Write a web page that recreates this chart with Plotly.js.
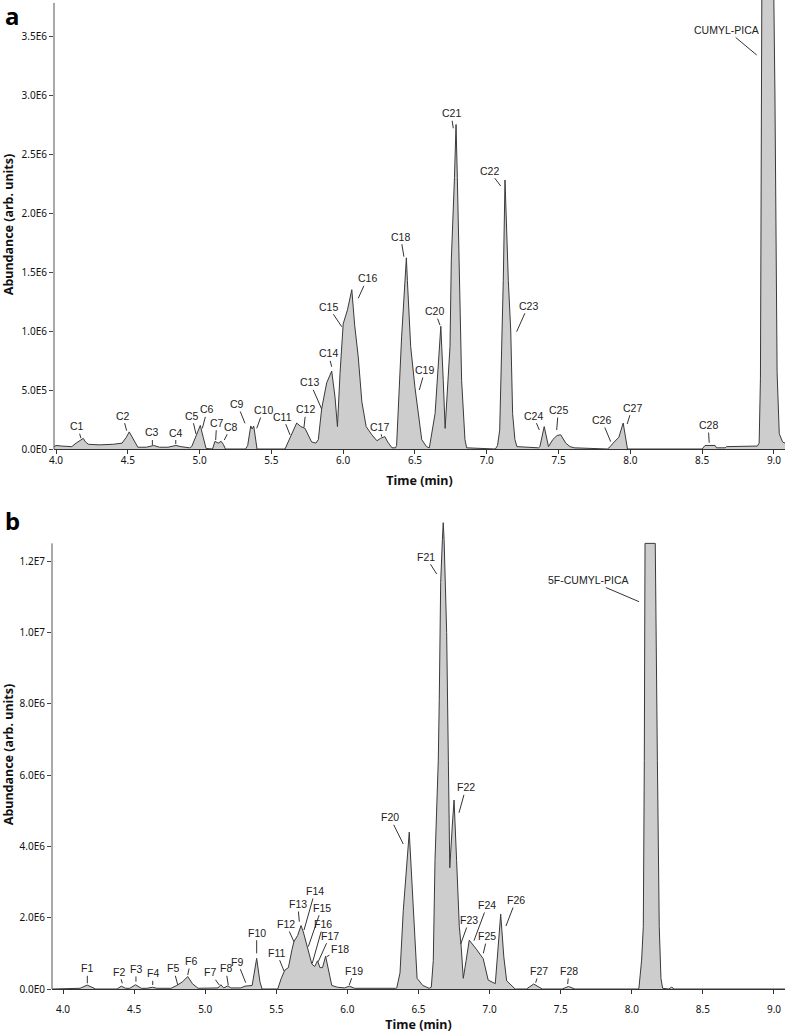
<!DOCTYPE html>
<html><head><meta charset="utf-8">
<script src="https://cdn.plot.ly/plotly-3.0.1.min.js"></script>
<style>html,body{margin:0;padding:0;background:#fff}#chart{width:787px;height:1034px}</style>
</head><body><div id="chart"></div>
<script>
// ---------- Panel a: CUMYL-PICA chromatogram (time in min, abundance in units of 1E6) ----------
const aTime = [3.986,4.00,4.04,4.08,4.11,4.14,4.19,4.205,4.225,4.30,4.40,4.46,4.49,4.51,4.54,4.57,4.63,4.68,4.72,4.78,
  4.835,4.87,4.93,4.945,4.975,5.005,5.025,5.045,5.09,5.10,5.107,5.13,5.15,5.165,5.18,5.32,5.335,5.356,5.366,5.377,
  5.39,5.40,5.595,5.63,5.676,5.705,5.734,5.78,5.81,5.827,5.85,5.885,5.92,5.943,5.96,5.978,6.00,6.03,6.06,6.08,
  6.105,6.13,6.16,6.20,6.235,6.26,6.29,6.31,6.34,6.365,6.372,6.407,6.44,6.447,6.47,6.50,6.52,6.547,6.58,6.60,
  6.64,6.662,6.68,6.697,6.71,6.744,6.753,6.775,6.786,6.795,6.808,6.825,6.848,6.86,7.06,7.075,7.09,7.105,7.115,7.127,
  7.15,7.167,7.18,7.196,7.21,7.36,7.37,7.40,7.43,7.46,7.49,7.515,7.55,7.58,7.61,7.84,7.86,7.88,7.92,7.95,
  7.97,7.98,8.50,8.52,8.59,8.60,8.66,8.67,8.885,8.897,8.906,8.916,8.955,8.997,9.007,9.022,9.037,9.06,9.077];
const aAbundM = [0.02,0.03,0.025,0.02,0.02,0.05,0.09,0.06,0.04,0.035,0.04,0.05,0.10,0.145,0.08,0.015,0.015,0.03,0.015,0.015,
  0.03,0.02,0.01,0.02,0.11,0.20,0.10,0.005,0.0,0.05,0.065,0.05,0.065,0.04,0.0,0.0,0.03,0.195,0.17,0.195,
  0.08,0.0,0.0,0.10,0.22,0.19,0.175,0.06,0.05,0.08,0.34,0.56,0.66,0.44,0.19,0.64,1.06,1.18,1.35,1.05,
  0.78,0.40,0.19,0.12,0.07,0.09,0.105,0.06,0.01,0.01,0.03,0.95,1.62,1.43,0.87,0.52,0.35,0.08,0.02,0.01,
  0.30,0.73,1.04,0.58,0.175,0.87,1.6,2.3,2.75,2.3,1.4,0.58,0.08,0.01,0.0,0.03,0.16,0.8,1.43,2.28,
  1.43,1.0,0.3,0.08,0.02,0.01,0.02,0.19,0.02,0.08,0.115,0.12,0.05,0.02,0.01,0.0,0.02,0.05,0.10,0.22,
  0.08,0.0,0.0,0.03,0.03,0.01,0.01,0.02,0.025,0.05,0.6,4.0,8.5,4.0,3.0,0.65,0.13,0.06,0.05];

const aLabelText = ['C1','C2','C3','C4','C5','C6','C7','C8','C9','C10','C11','C12','C13','C14','C15','C16','C17','C18','C19','C20',
  'C21','C22','C23','C24','C25','C26','C27','C28','CUMYL-PICA'];
const aLabelT = [4.174,4.492,4.671,4.834,4.975,5.019,5.112,5.172,5.316,5.398,5.63,5.727,5.85,5.92,5.99,6.105,6.268,6.423,6.53,6.674,
  6.767,7.097,7.208,7.366,7.487,7.863,7.978,8.549,8.88];
const aLabelV = [0.091,0.155,0.034,0.042,0.127,0.175,0.076,0.076,0.218,0.175,0.119,0.184,0.339,0.697,1.036,1.277,0.104,1.63,0.5,1.05,
  2.718,2.229,0.994,0.161,0.161,0.062,0.212,0.053,3.339];
const aYTickVals = [0,0.5,1.0,1.5,2.0,2.5,3.0,3.5];
const aYTickText = ['0.0E0','5.0E5','1.0E6','1.5E6','2.0E6','2.5E6','3.0E6','3.5E6'];

// ---------- Panel b: 5F-CUMYL-PICA chromatogram ----------
const bTime = [3.923,4.10,4.12,4.17,4.21,4.23,4.38,4.41,4.44,4.47,4.51,4.55,4.59,4.63,4.66,4.76,4.80,4.84,4.877,4.91,
  4.95,5.05,5.09,5.11,5.13,5.16,5.18,5.25,5.28,5.33,5.362,5.385,5.40,5.51,5.535,5.56,5.585,5.61,5.624,5.65,
  5.674,5.69,5.70,5.714,5.725,5.75,5.77,5.79,5.807,5.825,5.847,5.87,5.89,5.93,5.98,6.013,6.05,6.34,6.347,6.37,
  6.393,6.435,6.464,6.49,6.53,6.575,6.59,6.604,6.616,6.639,6.646,6.656,6.668,6.674,6.68,6.698,6.71,6.72,6.738,6.75,
  6.768,6.787,6.80,6.815,6.835,6.857,6.91,6.955,6.99,7.04,7.078,7.10,7.12,7.18,7.26,7.31,7.37,7.51,7.555,7.60,
  8.04,8.05,8.069,8.081,8.088,8.093,8.165,8.175,8.18,8.193,8.205,8.217,8.26,8.28,8.30,9.077];
const bAbundM = [0,0,0.02,0.11,0.03,0,0,0.08,0.02,0.02,0.12,0.02,0.02,0.05,0.02,0.02,0.10,0.20,0.35,0.15,
  0.02,0.02,0.03,0.12,0.03,0.09,0.03,0.03,0.08,0.10,0.86,0.20,0,0,0.30,0.53,0.60,1.10,1.33,1.50,
  1.78,1.60,1.45,1.20,1.05,0.70,0.63,0.79,0.60,0.60,0.92,0.45,0.10,0.05,0.03,0.08,0.02,0.02,0.03,0.45,
  2.2,4.4,2.2,0.30,0.10,0.02,0.05,0.8,3.6,6.4,8.1,11.4,12.6,13.08,12.6,10.0,6.4,3.4,4.6,5.3,
  3.6,1.75,1.20,0.30,0.80,1.37,1.10,0.85,0.25,0.15,2.10,0.90,0.23,0,0,0.14,0,0,0.07,0,
  0,0.02,0.81,1.75,6.4,12.5,12.5,7.2,6.4,1.75,0.30,0.02,0,0.05,0,0];

const bLabelText = ['F1','F2','F3','F4','F5','F6','F7','F8','F9','F10','F11','F12','F13','F14','F15','F16','F17','F18','F19','F20',
  'F21','F22','F23','F24','F25','F26','F27','F28','5F-CUMYL-PICA'];
const bLabelT = [4.171,4.417,4.513,4.631,4.807,4.877,5.099,5.162,5.285,5.362,5.554,5.624,5.662,5.695,5.725,5.753,5.795,5.854,6.013,6.393,
  6.628,6.785,6.797,6.89,6.956,7.115,7.324,7.549,8.051];
const bLabelV = [0.16,0.16,0.205,0.112,0.112,0.393,0.112,0.112,0.177,1.0,0.505,1.327,1.888,1.655,1.187,0.721,0.766,0.906,0.112,4.067,
  11.64,4.945,1.262,1.355,1.0,1.767,0.177,0.14,10.864];
const bYTickVals = [0,2,4,6,8,10,12];
const bYTickText = ['0.0E0','2.0E6','4.0E6','6.0E6','8.0E6','1.0E7','1.2E7'];

const xTickVals = [4.0,4.5,5.0,5.5,6.0,6.5,7.0,7.5,8.0,8.5,9.0];
const xTickText = ['4.0','4.5','5.0','5.5','6.0','6.5','7.0','7.5','8.0','8.5','9.0'];

// ---------- label offsets (pixels, text centre relative to arrow tip) ----------
const aLabelDX = [-3.7,-4,0,0,-4.3,5,1,6.7,-7.7,6.6,-7.3,2,-11.7,-3.4,-13.4,9,-1.7,-3.3,5.7,-5,-2.3,-11.7,11.6,-6,1.6,-9,5,-1,-30];
const aLabelDY = [-12,-15,-12.5,-11.5,-18.3,-19,-17.3,-13.3,-19.3,-18.3,-18.3,-18,-26.7,-13.4,-20,-20,-10,-20,-20,-14,-15,-15.3,-26,-14.3,-20,-21.7,-16.3,-17.7,-25];
const bLabelDX = [0,-3.3,0,0,-4.4,3,-9.3,-2.6,-8.4,0,-7.3,-8,-1.6,11,13.4,11,11.7,13.3,5,-13.3,-11,7,8.6,13.3,4,10,3.6,1.3,-50.7];
const bLabelDY = [-15,-11.6,-12.7,-11.7,-16.7,-14,-12.7,-16.7,-21,-20.6,-18.3,-17.7,-17.7,-39,-39,-39.3,-26,-7.4,-14.3,-26.7,-17.3,-25.4,-24,-35.7,-17.3,-26,-11.7,-13,-21.7];

const M = 1e6;
const lineStyle = {color:'#3a3a3a', width:1, shape:'linear'};
const fillCol = '#cdcdcd';
const traces = [
  {type:'scatter', mode:'lines', x:aTime, y:aAbundM.map(v=>v*M), xaxis:'x', yaxis:'y', fill:'tozeroy', fillcolor:fillCol, line:lineStyle, hoverinfo:'skip', name:'CUMYL-PICA'},
  {type:'scatter', mode:'lines', x:bTime, y:bAbundM.map(v=>v*M), xaxis:'x2', yaxis:'y2', fill:'tozeroy', fillcolor:fillCol, line:lineStyle, hoverinfo:'skip', name:'5F-CUMYL-PICA'}
];

const tickFont = {family:'Noto Sans, Open Sans, sans-serif', size:10, color:'#111'};
const titleFont = {family:'Noto Sans, Open Sans, sans-serif', size:12.5, color:'#111', weight:'bold'};
const labFont = {family:'Liberation Sans, Arial, sans-serif', size:10.5, color:'#222'};

function mkLabels(txt, T, V, DX, DY, xr, yr) {
  return txt.map((t,i)=>({x:T[i], y:V[i]*M, xref:xr, yref:yr, text:t, showarrow:true, arrowhead:0, arrowwidth:1,
    arrowcolor:'#333', ax:DX[i], ay:DY[i], font:labFont, borderpad:1}));
}

const annotations = [
  ...mkLabels(aLabelText, aLabelT, aLabelV, aLabelDX, aLabelDY, 'x', 'y'),
  ...mkLabels(bLabelText, bLabelT, bLabelV, bLabelDX, bLabelDY, 'x2', 'y2'),
  {text:'a', xref:'paper', yref:'paper', x:-40/733, y:(989-15)/989, showarrow:false, xanchor:'center', yanchor:'middle',
   font:{family:'Noto Sans, Open Sans, sans-serif', size:24, color:'#000', weight:'bold'}},
  {text:'b', xref:'paper', yref:'paper', x:-40/733, y:(989-520)/989, showarrow:false, xanchor:'center', yanchor:'middle',
   font:{family:'Noto Sans, Open Sans, sans-serif', size:24, color:'#000', weight:'bold'}}
];

const xCommon = {ticks:'outside', ticklen:4, tickcolor:'#333', tickwidth:1, showline:true, linecolor:'#333', linewidth:1,
  showgrid:false, zeroline:false, tickfont:tickFont, tickvals:xTickVals, ticktext:xTickText, fixedrange:true};
const yCommon = {ticks:'outside', ticklen:4, tickcolor:'#444', tickwidth:1, showline:false, showgrid:false, zeroline:false,
  tickfont:tickFont, fixedrange:true};

const layout = {
  width:787, height:1034, margin:{l:52, r:2, t:0, b:45}, paper_bgcolor:'#fff', plot_bgcolor:'#fff', showlegend:false,
  xaxis: Object.assign({}, xCommon, {domain:[2/733,1], anchor:'y', range:[3.986,9.077], ticklabelstandoff:-2,
    title:{text:'Time (min)', font:titleFont, standoff:10}}),
  yaxis: Object.assign({}, yCommon, {domain:[540/989,1], anchor:'x', range:[0, 449/118*M],
    tickvals:aYTickVals.map(v=>v*M), ticktext:aYTickText, title:{text:'Abundance (arb. units)', font:titleFont, standoff:6}}),
  xaxis2: Object.assign({}, xCommon, {domain:[0,1], anchor:'y2', range:[3.9226,9.0774], ticklabelstandoff:7,
    title:{text:'Time (min)', font:titleFont, standoff:1}}),
  yaxis2: Object.assign({}, yCommon, {domain:[0,469/989], anchor:'x2', range:[0, 469/35.65*M],
    tickvals:bYTickVals.map(v=>v*M), ticktext:bYTickText, title:{text:'Abundance (arb. units)', font:titleFont, standoff:6}}),
  shapes: [
    {type:'line', xref:'x domain', x0:0, x1:0, yref:'y', y0:0, y1:3.78*M, line:{color:'#555', width:1}},
    {type:'line', xref:'x2 domain', x0:0, x1:0, yref:'y2', y0:0, y1:12.5*M, line:{color:'#555', width:1}}
  ],
  annotations: annotations
};

Plotly.newPlot('chart', traces, layout, {displayModeBar:false, staticPlot:true});
</script></body></html>
